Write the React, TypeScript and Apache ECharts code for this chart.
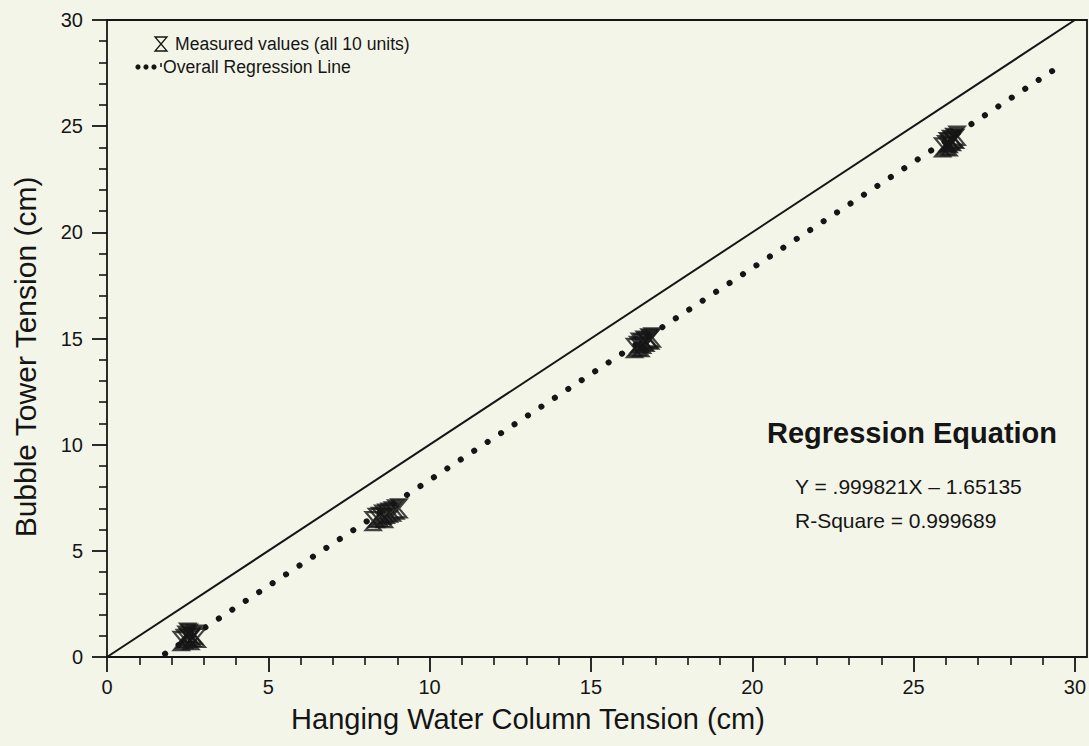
import React, { useEffect, useRef } from "react";
import * as echarts from "echarts";

const xTicks = [0, 5, 10, 15, 20, 25, 30];
const yTicks = [0, 5, 10, 15, 20, 25, 30];

const measuredX = [
  2.3, 2.4, 2.45, 2.5, 2.55, 2.6, 2.65, 2.7, 2.8, 2.5,
  8.25, 8.35, 8.45, 8.55, 8.65, 8.75, 8.85, 8.95, 9.05, 8.6,
  16.35, 16.45, 16.5, 16.6, 16.65, 16.7, 16.8, 16.85, 16.9, 16.55,
  25.9, 26.0, 26.05, 26.1, 26.15, 26.2, 26.25, 26.3, 26.35, 26.1,
];
const measuredY = [
  0.75, 0.85, 1.0, 0.9, 1.1, 0.8, 0.95, 1.05, 0.9, 1.15,
  6.4, 6.55, 6.6, 6.7, 6.75, 6.8, 6.85, 6.95, 7.0, 6.55,
  14.55, 14.65, 14.8, 14.75, 14.9, 14.85, 15.0, 14.95, 15.05, 14.6,
  24.0, 24.1, 24.25, 24.2, 24.35, 24.3, 24.45, 24.4, 24.55, 24.05,
];
const identityX = [0, 30];
const identityY = [0, 30];
const regressionX = [1.8, 29.3];
const regressionY = [0.15, 27.6];

const legendMeasured = "Measured values (all 10 units)";
const legendRegression = "Overall Regression Line";
const eqTitle = "Regression Equation";
const eqLine = "Y = .999821X \u2013 1.65135";
const rsqLine = "R-Square = 0.999689";
const xTitle = "Hanging Water Column Tension (cm)";
const yTitle = "Bubble Tower Tension (cm)";

const FONT = "'Liberation Sans', Arial, Helvetica, sans-serif";
const INK = "#151515";
const HOURGLASS = "path://M0,0L10,0L5,7L10,14L0,14L5,7Z";

export default function App() {
  const ref = useRef<HTMLDivElement>(null);
  useEffect(() => {
    if (!ref.current) return;
    const chart = echarts.init(ref.current, null, { renderer: "svg" });
    const axisCommon = {
      type: "value" as const,
      min: 0,
      max: 30,
      interval: 5,
      axisLine: { show: true, onZero: false, lineStyle: { color: INK, width: 1.8 } },
      axisTick: { show: true, inside: false, length: 15, lineStyle: { color: INK, width: 1.8 } },
      minorTick: { show: true, splitNumber: 5, length: 8, lineStyle: { color: INK, width: 1.6 } },
      splitLine: { show: false },
      minorSplitLine: { show: false },
    };
    chart.setOption({
      animation: false,
      backgroundColor: "transparent",
      grid: { left: 107, right: 14, top: 20, bottom: 89 },
      xAxis: {
        ...axisCommon,
        axisLabel: { color: INK, fontFamily: FONT, fontSize: 20, margin: 20,
          formatter: (v: number) => (xTicks.includes(v) ? String(v) : "") },
      },
      yAxis: {
        ...axisCommon,
        axisLabel: { color: INK, fontFamily: FONT, fontSize: 20, margin: 24,
          formatter: (v: number) => (yTicks.includes(v) ? String(v) : "") },
      },
      series: [
        {
          type: "line",
          data: identityX.map((x, i) => [x, identityY[i]]),
          symbol: "none",
          lineStyle: { color: INK, width: 2 },
        },
        {
          type: "line",
          data: regressionX.map((x, i) => [x, regressionY[i]]),
          symbol: "none",
          lineStyle: { color: INK, width: 6, type: [0.1, 15.98], cap: "round" },
        },
        {
          type: "scatter",
          data: measuredX.map((x, i) => [x, measuredY[i]]),
          symbol: HOURGLASS,
          symbolSize: [15, 18],
          itemStyle: { color: "rgba(0,0,0,0)", borderColor: INK, borderWidth: 2.2 },
        },
      ],
      graphic: [
        {
          type: "polyline",
          shape: { points: [[107, 20], [1087, 20], [1087, 657], [1075, 657]] },
          style: { stroke: INK, lineWidth: 1.8, fill: "none" },
        },
        {
          type: "polygon",
          shape: { points: [[155, 37], [167, 37], [161, 44], [167, 51], [155, 51], [161, 44]] },
          style: { stroke: INK, lineWidth: 1.3, fill: "none" },
        },
        { type: "text", x: 175, y: 44, style: { text: legendMeasured, font: `17.6px ${FONT}`, fill: INK, verticalAlign: "middle" } },
        { type: "circle", shape: { cx: 138, cy: 67, r: 2.6 }, style: { fill: INK } },
        { type: "circle", shape: { cx: 146, cy: 67, r: 2.6 }, style: { fill: INK } },
        { type: "circle", shape: { cx: 154, cy: 67, r: 2.6 }, style: { fill: INK } },
        { type: "line", shape: { x1: 161, y1: 63, x2: 161, y2: 67 }, style: { stroke: INK, lineWidth: 1.5 } },
        { type: "text", x: 163, y: 67, style: { text: legendRegression, font: `17.6px ${FONT}`, fill: INK, verticalAlign: "middle" } },
        { type: "text", x: 767, y: 433, style: { text: eqTitle, font: `bold 29px ${FONT}`, fill: INK, verticalAlign: "middle" } },
        { type: "text", x: 795, y: 486, style: { text: eqLine, font: `21px ${FONT}`, fill: INK, verticalAlign: "middle" } },
        { type: "text", x: 795, y: 520, style: { text: rsqLine, font: `21px ${FONT}`, fill: INK, verticalAlign: "middle" } },
        { type: "text", x: 528, y: 719, style: { text: xTitle, font: `29px ${FONT}`, fill: INK, align: "center", verticalAlign: "middle" } },
        { type: "text", x: 25, y: 357, rotation: Math.PI / 2, style: { text: yTitle, font: `30px ${FONT}`, fill: INK, align: "center", verticalAlign: "middle" } },
      ],
    });
    return () => chart.dispose();
  }, []);
  return (
    <div style={{ position: "absolute", left: 0, top: 0, width: 1089, height: 746, background: "#f4f5e9" }}>
      <div ref={ref} style={{ width: 1089, height: 746 }} />
    </div>
  );
}
